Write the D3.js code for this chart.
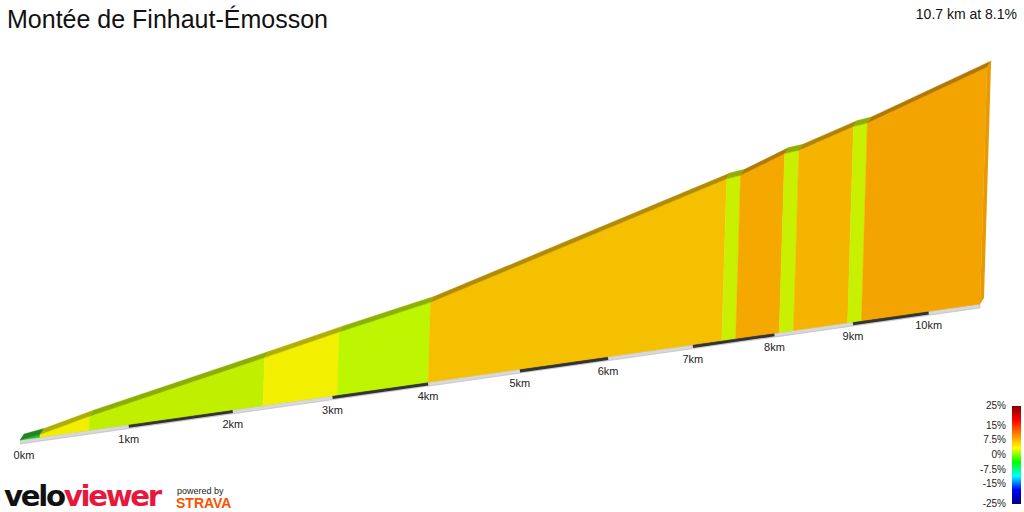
<!DOCTYPE html>
<html><head><meta charset="utf-8">
<script src="https://cdn.jsdelivr.net/npm/d3@7"></script>
<style>body{margin:0;background:#fff}svg{display:block;font-family:"Liberation Sans",Arial,sans-serif}</style>
</head><body><svg id="c" width="1024" height="512"></svg>
<script>
// distance breakpoints (km) and elevation (m) at each
const distances = [0, 0.18, 0.63, 2.3, 3.05, 4.0, 7.35, 7.52, 8.06, 8.24, 8.93, 9.11, 10.7];
const elevations = [0, 8, 42, 149, 199, 257, 556, 563, 623, 630, 695, 703, 867];
const segColors = ["#2db82d","#f2ee00","#c0f000","#f2f000","#bef500","#f5c000","#c8f000","#f4a800","#c8f000","#f4b400","#c8f000","#f4a400"];
const kmTicks = [0,1,2,3,4,5,6,7,8,9,10];
const legendLabels = ["25%","15%","7.5%","0%","-7.5%","-15%","-25%"];
const legendValues = [25,15,7.5,0,-7.5,-15,-25];
const legendStops = ["#800000","#ff0000","#ff8000","#ffff00","#00ff00","#00ffff","#0000ff","#000080"];

const svg = d3.select("#c");
const k = 0.0223;
const lin = d3.scaleLinear().domain([0, 10.7/(1+k*10.7)]).range([20, 980]);
const X = d => lin(d/(1+k*d));
const baseY = d3.scaleLinear().domain([20, 980]).range([440, 304]);
const hScale = d3.scaleLinear().domain([0, 867]).range([0, 293.6]);
const H = (d, e) => hScale(e)/(1+k*d);
const pt = (d, e) => [X(d) + H(d,e)*0.03, baseY(X(d)) - H(d,e)];
const bp = d => [X(d), baseY(X(d))];
const dx = 4, dy = -6;

const last = distances[distances.length-1];
svg.append("path").attr("d", d3.line()([bp(0), bp(last), [bp(last)[0], bp(last)[1]+4], [bp(0)[0], bp(0)[1]+4]]))
  .attr("fill", "#d8d8d8").attr("stroke", "#aaa").attr("stroke-width", 0.5);
kmTicks.filter(t => t % 2 === 1 && t + 1 <= last).forEach(t => {
  svg.append("line").attr("x1", X(t)).attr("y1", baseY(X(t))+1.5).attr("x2", X(t+1)).attr("y2", baseY(X(t+1))+1.5)
    .attr("stroke", "#333").attr("stroke-width", 3.5);
});

segColors.forEach((c, i) => {
  const d0 = distances[i], d1 = distances[i+1], e0 = elevations[i], e1 = elevations[i+1];
  const a = pt(d0,e0), b = pt(d1,e1);
  const col = d3.color(c);
  svg.append("path").attr("d", d3.line()([bp(d0), a, b, bp(d1)]) + "Z")
    .attr("fill", c).attr("stroke", c).attr("stroke-width", 0.4);
  svg.append("path").attr("d", d3.line()([a, [a[0]+dx, a[1]+dy], [b[0]+dx, b[1]+dy], b]) + "Z")
    .attr("fill", col.darker(0.9)).attr("stroke", col.darker(0.9)).attr("stroke-width", 0.4);
});
const ep = pt(last, elevations[elevations.length-1]);
svg.append("path").attr("d", d3.line()([bp(last), ep, [ep[0]+dx, ep[1]+dy], [bp(last)[0]+dx, bp(last)[1]+dy]]) + "Z")
  .attr("fill", "#e89a00");

kmTicks.forEach(t => {
  svg.append("text").attr("x", X(t) + (t===0?4:0)).attr("y", baseY(X(t)) + 18 + (t===0?1:0))
    .attr("text-anchor", "middle").attr("font-size", 11).attr("fill", "#222").text(t + "km");
});

svg.append("text").attr("x", 7).attr("y", 28).attr("font-size", 25).attr("fill", "#111").text("Montée de Finhaut-Émosson");
svg.append("text").attr("x", 1017).attr("y", 19).attr("text-anchor", "end").attr("font-size", 14).attr("fill", "#111").text("10.7 km at 8.1%");

const defs = svg.append("defs");
const g = defs.append("linearGradient").attr("id", "lg").attr("x1", 0).attr("y1", 0).attr("x2", 0).attr("y2", 1);
legendStops.forEach((c, i) => g.append("stop").attr("offset", i/(legendStops.length-1)).attr("stop-color", c));
const ly = d3.scaleLinear().domain([25, -25]).range([406, 504]);
svg.append("rect").attr("x", 1012).attr("y", 406).attr("width", 9).attr("height", 98).attr("fill", "url(#lg)");
legendValues.forEach((v, i) => {
  svg.append("text").attr("x", 1006).attr("y", ly(v) + 3).attr("text-anchor", "end").attr("font-size", 10).attr("fill", "#222").text(legendLabels[i]);
});

const lt = svg.append("text").attr("x", 4).attr("y", 506).attr("font-size", 28).attr("font-weight", 900)
  .attr("letter-spacing", -2.2).attr("font-family", "'DejaVu Sans',sans-serif").attr("textLength", 156).attr("lengthAdjust", "spacingAndGlyphs");
lt.append("tspan").attr("fill", "#111").text("velo");
lt.append("tspan").attr("fill", "#e8173c").text("viewer");
svg.append("text").attr("x", 177).attr("y", 494).attr("font-size", 9).attr("fill", "#222").text("powered by");
svg.append("text").attr("x", 176).attr("y", 508).attr("font-size", 14).attr("font-weight", 900).attr("fill", "#fc5200").text("STRAVA");
</script></body></html>
